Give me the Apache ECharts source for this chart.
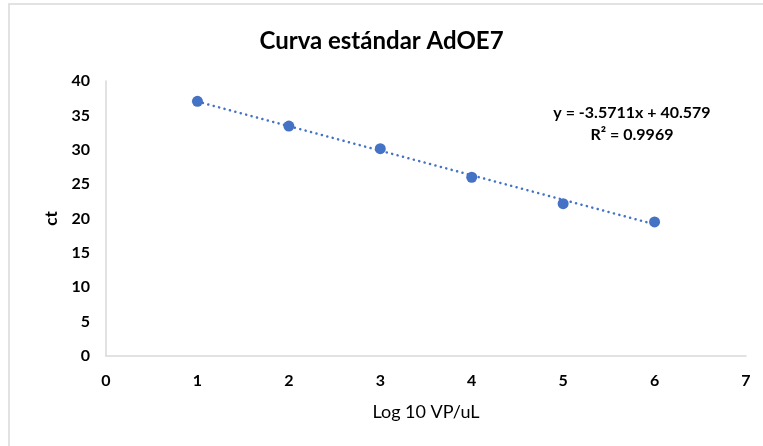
<!DOCTYPE html>
<html><head><meta charset="utf-8">
<script src="https://cdn.jsdelivr.net/npm/echarts@6/dist/echarts.min.js"></script>
<style>html,body{margin:0;padding:0;background:#fff}#c{width:763px;height:446px}</style>
</head><body><div id="c"></div>
<script>
const xValues = [1, 2, 3, 4, 5, 6];
const ctValues = [37.05, 33.45, 30.15, 26.0, 22.15, 19.5];
const trendX = [1, 6];
const trendY = [37.008, 19.152];
const titleText = 'Curva estándar AdOE7';
const eqLines = ['y = -3.5711x + 40.579', 'R² = 0.9969'];
const xName = 'Log 10 VP/uL';
const yName = 'ct';

const F = 'Lato, "Open Sans", sans-serif';
const chart = echarts.init(document.getElementById('c'), null, {renderer: 'canvas'});
chart.setOption({
  animation: false,
  backgroundColor: '#fff',
  title: {text: titleText, left: 'center', top: 24,
    textStyle: {fontFamily: F, fontSize: 24, fontWeight: 'bold', color: '#000'}},
  grid: {left: 106, right: 17, top: 81, bottom: 90},
  xAxis: {type: 'value', min: 0, max: 7, interval: 1,
    name: xName, nameLocation: 'middle', nameGap: 47,
    nameTextStyle: {fontFamily: F, fontSize: 18, color: '#000'},
    axisLine: {show: true, lineStyle: {color: '#d9d9d9', width: 1.5}},
    axisTick: {show: false}, splitLine: {show: false},
    axisLabel: {fontFamily: F, fontSize: 16, fontWeight: 'bold', color: '#000', margin: 17}},
  yAxis: {type: 'value', min: 0, max: 40, interval: 5,
    name: yName, nameLocation: 'middle', nameGap: 46,
    nameTextStyle: {fontFamily: F, fontSize: 17, fontWeight: 'bold', color: '#000'},
    axisLine: {show: true, lineStyle: {color: '#d9d9d9', width: 1.5}},
    axisTick: {show: false}, splitLine: {show: false},
    axisLabel: {fontFamily: F, fontSize: 16, fontWeight: 'bold', color: '#000', margin: 16}},
  graphic: [
    {type: 'rect', shape: {x: 9, y: 4, width: 800, height: 500}, silent: true,
     style: {fill: 'none', stroke: '#d9d9d9', lineWidth: 1.5}},
    {type: 'text', x: 632, y: 113,
     style: {text: eqLines[0], fontFamily: F, fontSize: 16, fontWeight: 'bold',
       fill: '#000', align: 'center', verticalAlign: 'middle'}},
    {type: 'text', x: 632, y: 135,
     style: {text: eqLines[1], fontFamily: F, fontSize: 16, fontWeight: 'bold',
       fill: '#000', align: 'center', verticalAlign: 'middle'}}
  ],
  series: [
    {type: 'line', data: trendX.map((x, i) => [x, trendY[i]]), symbol: 'none',
     lineStyle: {color: '#4472c4', width: 2.5, type: [0.1, 5.5], cap: 'round'}, z: 2},
    {type: 'scatter', data: xValues.map((x, i) => [x, ctValues[i]]), symbolSize: 11,
     itemStyle: {color: '#4472c4', opacity: 1}, z: 3}
  ]
});
</script></body></html>
